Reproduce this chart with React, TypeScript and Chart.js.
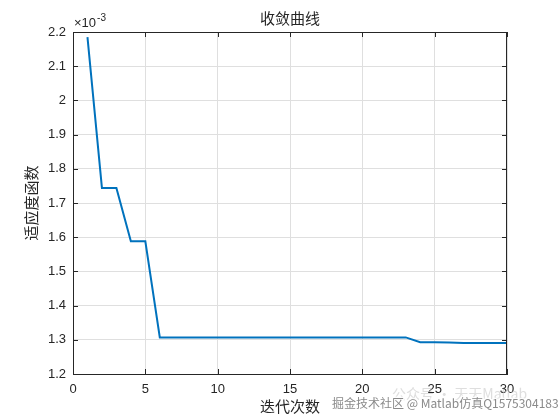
import React, { useEffect, useRef } from "react";
import { Chart, registerables } from "chart.js";

Chart.register(...registerables);

// Data (fitness values in units of 1e-3)
const iterations = [1, 2, 3, 4, 5, 6, 7, 8, 9, 10, 11, 12, 13, 14, 15, 16, 17, 18, 19, 20, 21, 22, 23, 24, 25, 26, 27, 28, 29, 30];
const fitness = [
  2.185, 1.744, 1.744, 1.588, 1.588, 1.307, 1.307, 1.307, 1.307, 1.307,
  1.307, 1.307, 1.307, 1.307, 1.307, 1.307, 1.307, 1.307, 1.307, 1.307,
  1.307, 1.307, 1.307, 1.293, 1.293, 1.292, 1.291, 1.291, 1.291, 1.291,
];
const xTicks = [0, 5, 10, 15, 20, 25, 30];
const yTicks = [1.2, 1.3, 1.4, 1.5, 1.6, 1.7, 1.8, 1.9, 2.0, 2.1, 2.2];
const titleText = "收敛曲线";
const xLabel = "迭代次数";
const yLabel = "适应度函数";
const exponentBase = "×10";
const exponentPower = "-3";
const watermarkMain = "掘金技术社区 @ Matlab仿真Q1575304183";
const watermarkFaint = "公众号 · 天天Matlab";

const AXIS_COLOR = "#262626";
const GRID_COLOR = "#dfdfdf";
const LINE_COLOR = "#0072BD";
const NUM_FONT = "'Liberation Sans', Arial, sans-serif";
const CJK_FONT = "'Noto Sans CJK SC', sans-serif";

const decor = {
  id: "decor",
  afterDraw(chart: any) {
    const { ctx, chartArea } = chart;
    const { left, right, top, bottom } = chartArea;
    const xs = chart.scales.x;
    const ys = chart.scales.y;
    ctx.save();
    // box
    ctx.strokeStyle = AXIS_COLOR;
    ctx.lineWidth = 1;
    ctx.beginPath();
    ctx.moveTo(left, top + 0.5);
    ctx.lineTo(right, top + 0.5);
    ctx.moveTo(right - 0.5, top);
    ctx.lineTo(right - 0.5, bottom);
    ctx.stroke();
    // inner ticks
    const tl = 5;
    ctx.beginPath();
    xTicks.forEach((v) => {
      const px = Math.round(xs.getPixelForValue(v)) + 0.5;
      ctx.moveTo(px, bottom);
      ctx.lineTo(px, bottom - tl);
      ctx.moveTo(px, top);
      ctx.lineTo(px, top + tl);
    });
    yTicks.forEach((v) => {
      const py = Math.round(ys.getPixelForValue(v)) + 0.5;
      ctx.moveTo(left, py);
      ctx.lineTo(left + tl, py);
      ctx.moveTo(right, py);
      ctx.lineTo(right - tl, py);
    });
    ctx.stroke();

    ctx.fillStyle = AXIS_COLOR;
    // title
    ctx.font = `15px ${CJK_FONT}`;
    ctx.textAlign = "center";
    ctx.textBaseline = "middle";
    ctx.fillText(titleText, (left + right) / 2, 18);
    // x label
    ctx.fillText(xLabel, (left + right) / 2, 406);
    // y label
    ctx.save();
    ctx.translate(31, (top + bottom) / 2);
    ctx.rotate(-Math.PI / 2);
    ctx.fillText(yLabel, 0, 0);
    ctx.restore();
    // exponent
    ctx.textAlign = "left";
    ctx.textBaseline = "alphabetic";
    ctx.font = `13px ${NUM_FONT}`;
    ctx.fillText(exponentBase, left + 1, 27);
    const w = ctx.measureText(exponentBase).width;
    ctx.font = `10px ${NUM_FONT}`;
    ctx.fillText(exponentPower, left + 2 + w, 21);

    // watermark
    ctx.font = `14px ${CJK_FONT}`;
    ctx.fillStyle = "rgba(200,200,200,0.6)";
    ctx.textAlign = "left";
    ctx.textBaseline = "middle";
    ctx.fillText(watermarkFaint, 392, 394);
    ctx.font = `12px ${CJK_FONT}`;
    ctx.lineWidth = 2.5;
    ctx.strokeStyle = "rgba(255,255,255,0.9)";
    ctx.strokeText(watermarkMain, 332, 403);
    ctx.fillStyle = "#8a8a8a";
    ctx.fillText(watermarkMain, 332, 403);
    ctx.restore();
  },
};

export default function App() {
  const ref = useRef<HTMLCanvasElement>(null);
  useEffect(() => {
    const chart = new Chart(ref.current!, {
      type: "line",
      data: {
        datasets: [
          {
            data: iterations.map((x, i) => ({ x, y: fitness[i] })),
            borderColor: LINE_COLOR,
            borderWidth: 2,
            pointRadius: 0,
            tension: 0,
            fill: false,
          },
        ],
      },
      options: {
        responsive: false,
        animation: false,
        layout: { padding: { top: 32, right: 53, bottom: 0, left: 0 } },
        plugins: {
          legend: { display: false },
          tooltip: { enabled: false },
          title: { display: false },
        },
        scales: {
          x: {
            type: "linear",
            min: 0,
            max: 30,
            afterBuildTicks: (s: any) => {
              s.ticks = xTicks.map((v) => ({ value: v }));
            },
            afterFit: (s: any) => {
              s.height = 46;
            },
            grid: { color: GRID_COLOR, drawTicks: false },
            border: { display: true, color: AXIS_COLOR, width: 1 },
            ticks: {
              padding: 8,
              color: AXIS_COLOR,
              maxRotation: 0,
              font: { family: NUM_FONT, size: 13 },
              callback: (v: any) => String(v),
            },
          },
          y: {
            type: "linear",
            min: 1.2,
            max: 2.2,
            afterBuildTicks: (s: any) => {
              s.ticks = yTicks.map((v) => ({ value: v }));
            },
            afterFit: (s: any) => {
              s.width = 73;
            },
            grid: { color: GRID_COLOR, drawTicks: false },
            border: { display: true, color: AXIS_COLOR, width: 1 },
            ticks: {
              padding: 7,
              color: AXIS_COLOR,
              font: { family: NUM_FONT, size: 13 },
              callback: (v: any) => String(Number(Number(v).toFixed(1))),
            },
          },
        },
      } as any,
      plugins: [decor],
    });
    return () => chart.destroy();
  }, []);
  return (
    <canvas
      ref={ref}
      width={560}
      height={420}
      style={{ position: "fixed", left: 0, top: 0, width: 560, height: 420 }}
    />
  );
}
